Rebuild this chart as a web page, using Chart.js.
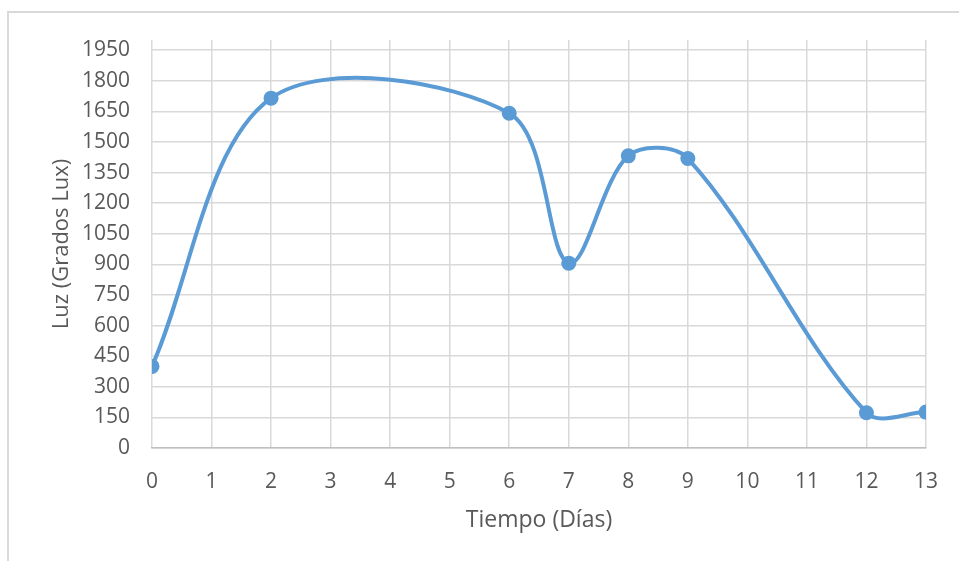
<!DOCTYPE html>
<html>
<head>
<meta charset="utf-8">
<script src="https://cdn.jsdelivr.net/npm/chart.js@4"></script>
<style>
  html, body { margin: 0; padding: 0; background: #fff; }
  #wrap { position: relative; width: 959px; height: 561px; overflow: hidden; }
  #frame { position: absolute; left: 7px; top: 11px; width: 960px; height: 560px;
           border-left: 2px solid #d9d9d9; border-top: 2px solid #d9d9d9; }
  canvas { position: absolute; left: 0; top: 0; }
</style>
</head>
<body>
<div id="wrap">
  <div id="frame"></div>
  <canvas id="luz_chart" width="959" height="561"></canvas>
</div>
<script>
// datos
const dias = [0, 2, 6, 7, 8, 9, 12, 13];
const luz = [400, 1715, 1641, 906, 1432, 1419, 173, 176];
const yTicks = [0, 150, 300, 450, 600, 750, 900, 1050, 1200, 1350, 1500, 1650, 1800, 1950];
const xTicks = [0, 1, 2, 3, 4, 5, 6, 7, 8, 9, 10, 11, 12, 13];

const azul = '#5b9bd5';
const gris = '#595959';
const rejilla = '#d9d9d9';
const fuente = '"Open Sans", sans-serif';

document.addEventListener('DOMContentLoaded', () => {
	const ctx = document.getElementById('luz_chart').getContext('2d');

	new Chart(ctx, {
		type: 'line',
		data: {
			datasets: [{
				label: 'Luz',
				data: dias.map((d, i) => ({ x: d, y: luz[i] })),
				borderColor: azul,
				backgroundColor: azul,
				borderWidth: 4,
				pointRadius: 7.5,
				pointBorderWidth: 0,
				pointBackgroundColor: azul,
				tension: 0.33,
				fill: false
			}]
		},
		options: {
			responsive: false,
			animation: false,
			layout: { padding: { left: 49, right: 32, top: 40, bottom: 27 } },
			plugins: {
				legend: { display: false },
				tooltip: { enabled: false }
			},
			scales: {
				x: {
					type: 'linear',
					min: 0,
					max: 13,
					afterBuildTicks: (axis) => { axis.ticks = xTicks.map(v => ({ value: v })); },
					afterFit: (axis) => { axis.height = 86; },
					ticks: { color: gris, font: { family: fuente, size: 21 }, padding: 21,
						callback: (v) => String(v) },
					grid: { color: rejilla, lineWidth: 1.5, drawTicks: false },
					border: { color: '#bfbfbf', width: 1.5 },
					title: { display: true, text: 'Tiempo (Días)', color: gris,
						font: { family: fuente, size: 23 }, padding: { top: 0, bottom: 0 } }
				},
				y: {
					min: 0,
					max: 2000,
					afterBuildTicks: (axis) => { axis.ticks = yTicks.map(v => ({ value: v })); },
					afterFit: (axis) => { axis.width = 103; },
					ticks: { color: gris, font: { family: fuente, size: 21 }, padding: 22,
						callback: (v) => String(v) },
					grid: { color: rejilla, lineWidth: 1.5, drawTicks: false },
					border: { display: false },
					title: { display: true, text: 'Luz (Grados Lux)', color: gris,
						font: { family: fuente, size: 22 }, padding: { top: 0, bottom: 0 } }
				}
			}
		}
	});
});
</script>
</body>
</html>
